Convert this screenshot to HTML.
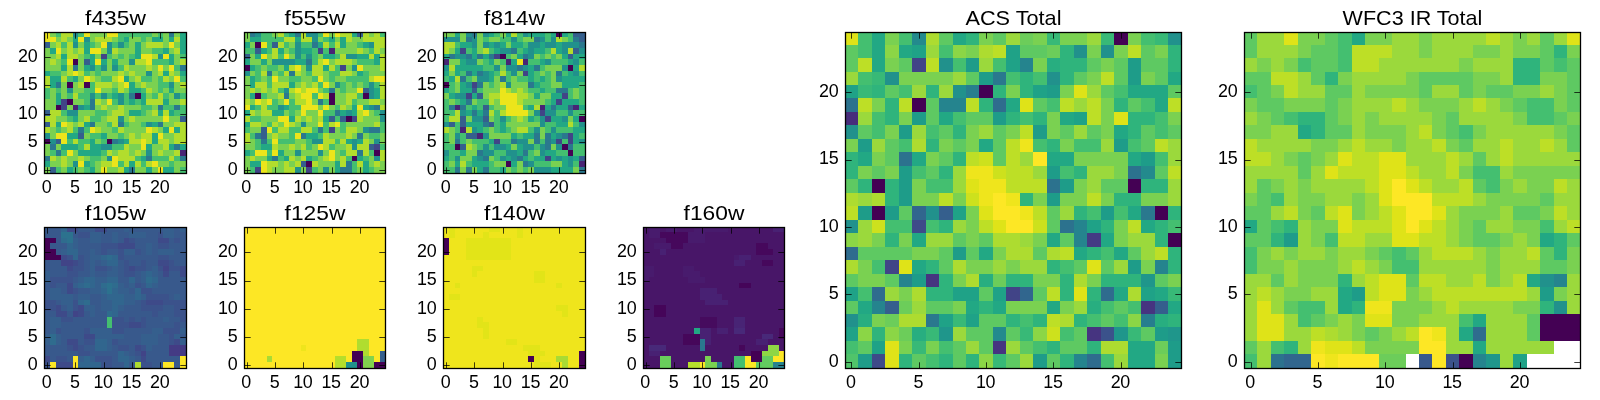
<!DOCTYPE html>
<html lang="en"><head><meta charset="utf-8"><title>HST filter cutouts</title>
<style>
html,body{margin:0;padding:0;background:#fff;}
body{width:1600px;height:400px;overflow:hidden;}
svg{display:block;will-change:transform;}
text{font-family:"Liberation Sans",sans-serif;fill:#000;}
.t{font-size:20.6px;text-anchor:middle;}
.k{font-size:17.9px;}
.fr{fill:none;stroke:#000;stroke-width:1.3;}
.tk{stroke:#000;stroke-width:0.75;fill:none;}
</style></head>
<body>
<svg width="1600" height="400" viewBox="0 0 1600 400">
<rect width="1600" height="400" fill="#fff"/>
<g id="p0">
<clipPath id="c0"><rect x="44.5" y="32.5" width="142" height="141"/></clipPath>
<g clip-path="url(#c0)" shape-rendering="crispEdges">
<rect x="44.3" y="31.1" width="144" height="143" fill="#7ad151"/>
<g transform="translate(44.3,31.1) scale(5.6600,5.6600)">
<path fill="#ece51b" d="M0 0h1v1h-1zM7 0h1v1h-1zM11 0h2v1h-2zM0 1h2v1h-2zM6 1h1v1h-1zM10 2h1v1h-1zM22 2h1v1h-1zM2 3h1v1h-1zM8 3h2v1h-2zM17 4h2v1h-2zM21 4h1v1h-1zM4 5h1v1h-1zM9 5h1v1h-1zM18 5h1v1h-1zM20 6h1v1h-1zM22 6h1v1h-1zM5 7h1v1h-1zM7 8h1v1h-1zM13 8h1v1h-1zM23 8h1v1h-1zM14 9h1v1h-1zM9 10h1v1h-1zM11 12h1v1h-1zM21 15h1v1h-1zM3 16h1v1h-1zM8 17h1v1h-1zM18 17h1v1h-1zM22 17h1v1h-1zM2 18h2v1h-2zM20 18h1v1h-1zM3 19h1v1h-1zM17 19h1v1h-1zM17 20h1v1h-1zM4 21h1v1h-1zM12 22h1v1h-1zM6 23h1v1h-1zM12 23h1v1h-1zM19 23h1v1h-1zM10 24h1v1h-1zM20 24h1v1h-1z"/>
<path fill="#44bf70" d="M2 0h1v1h-1zM6 0h1v1h-1zM13 0h6v1h-6zM20 0h1v1h-1zM13 1h1v1h-1zM17 1h1v1h-1zM3 2h1v1h-1zM8 2h1v1h-1zM12 2h1v1h-1zM14 2h1v1h-1zM19 3h2v1h-2zM7 4h1v1h-1zM11 4h1v1h-1zM13 4h1v1h-1zM15 4h1v1h-1zM24 4h1v1h-1zM3 5h1v1h-1zM19 5h3v1h-3zM9 6h1v1h-1zM13 6h1v1h-1zM23 6h1v1h-1zM1 7h2v1h-2zM7 7h1v1h-1zM9 7h1v1h-1zM4 8h1v1h-1zM10 8h2v1h-2zM17 8h2v1h-2zM20 8h1v1h-1zM24 8h1v1h-1zM8 9h1v1h-1zM20 9h2v1h-2zM0 10h1v1h-1zM2 10h1v1h-1zM7 10h2v1h-2zM12 10h1v1h-1zM17 10h1v1h-1zM20 10h1v1h-1zM0 11h1v1h-1zM4 11h1v1h-1zM6 11h2v1h-2zM9 11h1v1h-1zM11 11h1v1h-1zM14 11h1v1h-1zM19 11h1v1h-1zM21 11h1v1h-1zM24 11h1v1h-1zM7 12h1v1h-1zM12 12h1v1h-1zM14 12h1v1h-1zM16 12h1v1h-1zM17 13h2v1h-2zM21 13h2v1h-2zM24 13h1v1h-1zM3 14h1v1h-1zM9 14h2v1h-2zM17 14h1v1h-1zM23 14h2v1h-2zM4 15h1v1h-1zM8 15h2v1h-2zM11 16h1v1h-1zM14 16h1v1h-1zM17 16h1v1h-1zM2 17h1v1h-1zM5 17h1v1h-1zM7 17h1v1h-1zM12 17h1v1h-1zM8 18h2v1h-2zM13 18h1v1h-1zM4 19h1v1h-1zM6 19h2v1h-2zM10 19h1v1h-1zM6 20h1v1h-1zM12 20h2v1h-2zM1 21h1v1h-1zM3 21h1v1h-1zM10 21h1v1h-1zM8 22h2v1h-2zM16 22h1v1h-1zM19 22h3v1h-3zM23 22h1v1h-1zM8 23h1v1h-1zM13 23h1v1h-1zM17 23h1v1h-1zM22 23h1v1h-1zM2 24h1v1h-1zM5 24h1v1h-1zM7 24h1v1h-1zM24 24h1v1h-1z"/>
<path fill="#b2dd2d" d="M3 0h2v1h-2zM3 1h1v1h-1zM9 1h3v1h-3zM23 1h1v1h-1zM2 2h1v1h-1zM4 2h1v1h-1zM18 2h3v1h-3zM4 3h1v1h-1zM6 3h1v1h-1zM12 3h1v1h-1zM23 3h1v1h-1zM2 4h1v1h-1zM4 4h2v1h-2zM19 4h1v1h-1zM1 5h1v1h-1zM16 5h2v1h-2zM24 5h1v1h-1zM4 6h1v1h-1zM14 6h1v1h-1zM18 6h1v1h-1zM4 7h1v1h-1zM6 7h1v1h-1zM13 7h1v1h-1zM15 7h1v1h-1zM20 7h1v1h-1zM22 7h1v1h-1zM0 8h1v1h-1zM3 8h1v1h-1zM8 8h1v1h-1zM12 8h1v1h-1zM16 8h1v1h-1zM21 8h1v1h-1zM0 9h1v1h-1zM6 9h1v1h-1zM9 9h3v1h-3zM13 9h1v1h-1zM17 9h1v1h-1zM24 9h1v1h-1zM13 10h1v1h-1zM18 10h1v1h-1zM5 11h1v1h-1zM20 11h1v1h-1zM9 12h1v1h-1zM18 12h3v1h-3zM24 12h1v1h-1zM10 13h1v1h-1zM13 13h1v1h-1zM1 14h2v1h-2zM12 14h2v1h-2zM19 14h1v1h-1zM21 14h1v1h-1zM0 15h2v1h-2zM7 15h1v1h-1zM11 15h2v1h-2zM15 15h1v1h-1zM1 16h1v1h-1zM4 16h1v1h-1zM6 16h1v1h-1zM12 16h1v1h-1zM23 16h2v1h-2zM0 17h1v1h-1zM4 17h1v1h-1zM9 17h1v1h-1zM13 17h1v1h-1zM19 17h1v1h-1zM24 17h1v1h-1zM15 18h1v1h-1zM17 18h2v1h-2zM23 18h2v1h-2zM5 19h1v1h-1zM15 19h2v1h-2zM18 19h1v1h-1zM20 19h2v1h-2zM23 19h2v1h-2zM7 20h1v1h-1zM14 20h1v1h-1zM21 20h1v1h-1zM11 21h1v1h-1zM13 21h2v1h-2zM16 21h1v1h-1zM20 21h1v1h-1zM23 21h1v1h-1zM1 22h1v1h-1zM3 22h1v1h-1zM6 22h1v1h-1zM13 22h3v1h-3zM22 22h1v1h-1zM3 23h1v1h-1zM10 23h2v1h-2zM14 23h1v1h-1zM16 23h1v1h-1zM18 23h1v1h-1zM13 24h1v1h-1z"/>
<path fill="#21918c" d="M5 0h1v1h-1zM7 1h1v1h-1zM5 2h1v1h-1zM11 2h1v1h-1zM13 2h1v1h-1zM11 3h1v1h-1zM20 4h1v1h-1zM15 5h1v1h-1zM8 6h1v1h-1zM10 6h1v1h-1zM12 6h1v1h-1zM18 7h1v1h-1zM22 9h1v1h-1zM4 10h1v1h-1zM8 11h1v1h-1zM10 11h1v1h-1zM13 11h1v1h-1zM23 11h1v1h-1zM13 12h1v1h-1zM6 13h1v1h-1zM4 14h2v1h-2zM13 15h1v1h-1zM18 16h1v1h-1zM0 18h1v1h-1zM1 19h1v1h-1zM13 19h1v1h-1zM10 20h2v1h-2zM18 21h1v1h-1zM11 22h1v1h-1zM5 23h1v1h-1z"/>
<path fill="#2a788e" d="M22 0h1v1h-1zM5 6h1v1h-1zM24 6h1v1h-1zM2 9h1v1h-1zM15 11h1v1h-1zM8 12h1v1h-1zM8 13h1v1h-1zM20 13h1v1h-1zM23 13h1v1h-1zM8 16h1v1h-1zM13 16h1v1h-1zM20 16h1v1h-1zM6 17h1v1h-1zM12 19h1v1h-1zM1 20h1v1h-1zM23 20h1v1h-1zM2 21h1v1h-1zM0 22h1v1h-1zM18 22h1v1h-1zM24 22h1v1h-1zM15 24h1v1h-1z"/>
<path fill="#22a884" d="M24 0h1v1h-1zM5 1h1v1h-1zM14 1h1v1h-1zM19 1h2v1h-2zM22 1h1v1h-1zM24 1h1v1h-1zM7 2h1v1h-1zM16 2h1v1h-1zM24 2h1v1h-1zM1 3h1v1h-1zM7 3h1v1h-1zM16 3h1v1h-1zM21 3h1v1h-1zM24 3h1v1h-1zM3 4h1v1h-1zM8 4h1v1h-1zM16 4h1v1h-1zM22 4h1v1h-1zM8 5h1v1h-1zM10 5h1v1h-1zM12 5h1v1h-1zM22 5h1v1h-1zM3 6h1v1h-1zM7 6h1v1h-1zM0 7h1v1h-1zM21 7h1v1h-1zM24 7h1v1h-1zM1 8h2v1h-2zM5 8h1v1h-1zM14 8h1v1h-1zM1 9h1v1h-1zM15 9h1v1h-1zM15 10h2v1h-2zM22 10h1v1h-1zM2 11h1v1h-1zM12 11h1v1h-1zM17 11h1v1h-1zM2 12h1v1h-1zM15 12h1v1h-1zM17 12h1v1h-1zM21 12h1v1h-1zM7 13h1v1h-1zM15 14h2v1h-2zM20 14h1v1h-1zM22 14h1v1h-1zM5 15h1v1h-1zM2 16h1v1h-1zM7 16h1v1h-1zM19 16h1v1h-1zM21 17h1v1h-1zM23 17h1v1h-1zM4 18h2v1h-2zM10 18h1v1h-1zM19 18h1v1h-1zM8 19h1v1h-1zM14 19h1v1h-1zM19 19h1v1h-1zM3 20h3v1h-3zM8 20h2v1h-2zM18 20h1v1h-1zM22 20h1v1h-1zM24 20h1v1h-1zM6 21h4v1h-4zM17 22h1v1h-1zM0 23h1v1h-1zM7 23h1v1h-1zM15 23h1v1h-1zM4 24h1v1h-1zM8 24h1v1h-1zM14 24h1v1h-1zM18 24h1v1h-1zM21 24h2v1h-2z"/>
<path fill="#355f8d" d="M0 2h1v1h-1zM7 5h1v1h-1zM0 14h1v1h-1zM24 15h1v1h-1zM0 16h1v1h-1zM6 18h1v1h-1zM2 19h1v1h-1zM1 24h1v1h-1z"/>
<path fill="#414487" d="M10 4h1v1h-1zM3 12h1v1h-1zM3 13h1v1h-1z"/>
<path fill="#440154" d="M5 5h1v1h-1zM4 9h1v1h-1zM7 9h1v1h-1zM16 11h1v1h-1zM4 12h1v1h-1zM2 13h1v1h-1zM0 19h1v1h-1zM11 19h1v1h-1z"/>
<path fill="#482475" d="M5 13h1v1h-1zM24 21h1v1h-1z"/>
</g>
</g>
<path class="tk" d="M47.5 173.5v-6.2M47.5 32.5v6.2M44.5 170.5h6.2M186.5 170.5h-6.2M75.5 173.5v-6.2M75.5 32.5v6.2M44.5 142.5h6.2M186.5 142.5h-6.2M104.5 173.5v-6.2M104.5 32.5v6.2M44.5 114.5h6.2M186.5 114.5h-6.2M132.5 173.5v-6.2M132.5 32.5v6.2M44.5 85.5h6.2M186.5 85.5h-6.2M160.5 173.5v-6.2M160.5 32.5v6.2M44.5 57.5h6.2M186.5 57.5h-6.2"/>
<rect class="fr" x="44.5" y="32.5" width="142" height="141"/>
<text class="t" x="115.5" y="24.9" textLength="60.77" lengthAdjust="spacingAndGlyphs">f435w</text>
<text class="k" text-anchor="middle" x="46.63" y="192.7">0</text>
<text class="k" text-anchor="end" x="37.6" y="175.17">0</text>
<text class="k" text-anchor="middle" x="74.93" y="192.7">5</text>
<text class="k" text-anchor="end" x="37.6" y="146.87">5</text>
<text class="k" text-anchor="middle" x="103.23" y="192.7" textLength="19.6" lengthAdjust="spacing">10</text>
<text class="k" text-anchor="end" x="37.6" y="118.57" textLength="19.6" lengthAdjust="spacing">10</text>
<text class="k" text-anchor="middle" x="131.53" y="192.7" textLength="19.6" lengthAdjust="spacing">15</text>
<text class="k" text-anchor="end" x="37.6" y="90.27" textLength="19.6" lengthAdjust="spacing">15</text>
<text class="k" text-anchor="middle" x="159.83" y="192.7" textLength="19.6" lengthAdjust="spacing">20</text>
<text class="k" text-anchor="end" x="37.6" y="61.97" textLength="19.6" lengthAdjust="spacing">20</text>
</g>
<g id="p1">
<clipPath id="c1"><rect x="244.5" y="32.5" width="141" height="141"/></clipPath>
<g clip-path="url(#c1)" shape-rendering="crispEdges">
<rect x="244" y="31.1" width="143" height="143" fill="#7ad151"/>
<g transform="translate(244,31.1) scale(5.6600,5.6600)">
<path fill="#2a788e" d="M1 0h1v1h-1zM9 0h1v1h-1zM12 2h1v1h-1zM11 5h1v1h-1zM4 7h1v1h-1zM8 7h1v1h-1zM15 10h1v1h-1zM7 11h1v1h-1zM13 12h1v1h-1zM23 13h1v1h-1zM16 14h1v1h-1zM13 17h1v1h-1zM22 17h2v1h-2zM2 18h1v1h-1zM10 18h1v1h-1zM20 18h1v1h-1zM3 19h1v1h-1zM20 21h1v1h-1zM5 22h1v1h-1zM18 23h1v1h-1zM17 24h2v1h-2z"/>
<path fill="#21918c" d="M2 0h1v1h-1zM11 0h2v1h-2zM12 1h1v1h-1zM9 2h1v1h-1zM22 2h1v1h-1zM9 3h1v1h-1zM9 4h1v1h-1zM11 4h1v1h-1zM18 4h2v1h-2zM5 5h4v1h-4zM11 6h1v1h-1zM19 6h1v1h-1zM0 7h1v1h-1zM16 9h1v1h-1zM22 9h1v1h-1zM7 10h1v1h-1zM22 10h1v1h-1zM22 11h1v1h-1zM6 13h1v1h-1zM22 13h1v1h-1zM18 14h1v1h-1zM24 14h1v1h-1zM24 15h1v1h-1zM10 16h1v1h-1zM21 17h1v1h-1zM12 19h2v1h-2zM19 19h1v1h-1zM23 19h1v1h-1zM19 20h1v1h-1zM9 21h1v1h-1zM13 21h1v1h-1zM23 22h1v1h-1zM9 24h1v1h-1zM14 24h1v1h-1z"/>
<path fill="#44bf70" d="M3 0h2v1h-2zM7 0h1v1h-1zM13 0h1v1h-1zM24 0h1v1h-1zM3 1h4v1h-4zM14 1h1v1h-1zM4 2h1v1h-1zM7 2h1v1h-1zM10 2h2v1h-2zM15 2h1v1h-1zM20 2h1v1h-1zM0 3h2v1h-2zM4 3h1v1h-1zM8 3h1v1h-1zM12 3h1v1h-1zM14 3h1v1h-1zM22 3h1v1h-1zM6 4h1v1h-1zM10 4h1v1h-1zM12 4h1v1h-1zM16 4h1v1h-1zM12 5h1v1h-1zM20 5h3v1h-3zM2 6h1v1h-1zM4 6h2v1h-2zM16 6h1v1h-1zM2 7h1v1h-1zM6 7h1v1h-1zM11 7h1v1h-1zM15 7h2v1h-2zM21 7h1v1h-1zM2 8h1v1h-1zM4 8h1v1h-1zM8 8h2v1h-2zM12 8h1v1h-1zM15 8h1v1h-1zM18 8h4v1h-4zM4 9h1v1h-1zM13 9h1v1h-1zM17 9h1v1h-1zM19 9h1v1h-1zM21 9h1v1h-1zM23 9h1v1h-1zM6 10h1v1h-1zM14 10h1v1h-1zM17 10h1v1h-1zM3 11h1v1h-1zM12 11h1v1h-1zM20 11h1v1h-1zM5 12h1v1h-1zM8 12h1v1h-1zM14 12h1v1h-1zM19 12h1v1h-1zM2 13h1v1h-1zM4 13h2v1h-2zM8 13h2v1h-2zM16 13h1v1h-1zM8 14h1v1h-1zM14 14h2v1h-2zM23 14h1v1h-1zM1 15h2v1h-2zM16 15h1v1h-1zM4 16h1v1h-1zM14 16h1v1h-1zM17 16h1v1h-1zM24 16h1v1h-1zM0 17h1v1h-1zM5 17h1v1h-1zM8 17h2v1h-2zM12 17h1v1h-1zM14 17h1v1h-1zM17 17h1v1h-1zM24 17h1v1h-1zM1 18h1v1h-1zM8 18h1v1h-1zM13 18h1v1h-1zM22 18h2v1h-2zM2 19h1v1h-1zM4 19h1v1h-1zM6 19h3v1h-3zM11 19h1v1h-1zM16 19h1v1h-1zM2 20h1v1h-1zM11 20h1v1h-1zM15 20h1v1h-1zM24 20h1v1h-1zM1 21h1v1h-1zM4 21h1v1h-1zM17 21h1v1h-1zM22 21h1v1h-1zM6 22h1v1h-1zM12 22h1v1h-1zM18 22h1v1h-1zM21 22h1v1h-1zM19 23h1v1h-1zM1 24h1v1h-1zM12 24h1v1h-1zM19 24h1v1h-1zM22 24h1v1h-1z"/>
<path fill="#b2dd2d" d="M6 0h1v1h-1zM10 0h1v1h-1zM17 0h2v1h-2zM21 0h1v1h-1zM23 0h1v1h-1zM7 1h2v1h-2zM10 1h2v1h-2zM18 1h1v1h-1zM21 1h4v1h-4zM6 2h1v1h-1zM14 2h1v1h-1zM16 2h1v1h-1zM23 2h2v1h-2zM5 3h1v1h-1zM20 3h1v1h-1zM23 3h1v1h-1zM5 4h1v1h-1zM17 4h1v1h-1zM22 4h1v1h-1zM24 4h1v1h-1zM13 5h1v1h-1zM16 5h3v1h-3zM24 5h1v1h-1zM8 6h1v1h-1zM12 6h2v1h-2zM15 6h1v1h-1zM24 6h1v1h-1zM3 7h1v1h-1zM7 7h1v1h-1zM9 7h1v1h-1zM12 7h2v1h-2zM17 7h2v1h-2zM22 8h1v1h-1zM2 9h2v1h-2zM5 9h3v1h-3zM10 9h1v1h-1zM12 9h1v1h-1zM24 9h1v1h-1zM1 10h1v1h-1zM3 10h1v1h-1zM5 10h1v1h-1zM8 10h1v1h-1zM10 10h1v1h-1zM24 10h1v1h-1zM6 11h1v1h-1zM9 11h1v1h-1zM14 11h1v1h-1zM18 11h2v1h-2zM24 11h1v1h-1zM0 12h1v1h-1zM3 12h1v1h-1zM9 12h2v1h-2zM18 12h1v1h-1zM22 12h2v1h-2zM3 13h1v1h-1zM17 13h1v1h-1zM24 13h1v1h-1zM1 14h1v1h-1zM3 14h2v1h-2zM20 14h1v1h-1zM0 15h1v1h-1zM9 15h1v1h-1zM11 15h1v1h-1zM13 15h1v1h-1zM20 15h1v1h-1zM1 16h2v1h-2zM5 16h1v1h-1zM8 16h1v1h-1zM15 16h1v1h-1zM23 16h1v1h-1zM6 17h2v1h-2zM10 17h2v1h-2zM18 17h2v1h-2zM0 18h1v1h-1zM5 18h1v1h-1zM14 18h1v1h-1zM18 18h1v1h-1zM0 19h1v1h-1zM14 19h2v1h-2zM17 19h1v1h-1zM21 19h1v1h-1zM5 20h1v1h-1zM8 20h1v1h-1zM10 20h1v1h-1zM14 20h1v1h-1zM18 20h1v1h-1zM20 20h2v1h-2zM18 21h2v1h-2zM21 21h1v1h-1zM24 21h1v1h-1zM1 22h1v1h-1zM8 22h1v1h-1zM10 22h1v1h-1zM14 22h1v1h-1zM17 22h1v1h-1zM24 22h1v1h-1zM4 23h2v1h-2zM7 23h1v1h-1zM9 23h1v1h-1zM12 23h1v1h-1zM17 23h1v1h-1zM20 23h1v1h-1zM23 23h1v1h-1zM4 24h1v1h-1zM7 24h2v1h-2z"/>
<path fill="#22a884" d="M8 0h1v1h-1zM19 0h1v1h-1zM1 1h2v1h-2zM9 1h1v1h-1zM15 1h1v1h-1zM17 1h1v1h-1zM0 2h1v1h-1zM13 2h1v1h-1zM17 2h1v1h-1zM21 2h1v1h-1zM3 3h1v1h-1zM6 3h1v1h-1zM10 3h2v1h-2zM2 4h1v1h-1zM14 4h2v1h-2zM20 4h2v1h-2zM23 4h1v1h-1zM0 5h1v1h-1zM3 5h1v1h-1zM9 5h2v1h-2zM23 5h1v1h-1zM1 6h1v1h-1zM7 6h1v1h-1zM14 6h1v1h-1zM20 7h1v1h-1zM1 8h1v1h-1zM1 9h1v1h-1zM8 9h1v1h-1zM23 10h1v1h-1zM1 11h1v1h-1zM23 11h1v1h-1zM1 13h1v1h-1zM7 13h1v1h-1zM19 13h1v1h-1zM21 13h1v1h-1zM0 14h1v1h-1zM5 14h2v1h-2zM17 14h1v1h-1zM19 14h1v1h-1zM8 15h1v1h-1zM14 15h1v1h-1zM0 16h1v1h-1zM11 18h2v1h-2zM18 19h1v1h-1zM20 19h1v1h-1zM3 20h2v1h-2zM0 21h1v1h-1zM6 21h1v1h-1zM4 22h1v1h-1zM7 22h1v1h-1zM11 22h1v1h-1zM20 22h1v1h-1zM1 23h2v1h-2zM16 23h1v1h-1zM21 23h1v1h-1zM16 24h1v1h-1zM21 24h1v1h-1z"/>
<path fill="#ece51b" d="M14 0h1v1h-1zM16 0h1v1h-1zM3 2h1v1h-1zM3 4h1v1h-1zM7 4h1v1h-1zM14 5h1v1h-1zM9 6h1v1h-1zM20 6h1v1h-1zM5 8h1v1h-1zM13 8h1v1h-1zM23 8h2v1h-2zM14 9h1v1h-1zM9 10h1v1h-1zM11 10h2v1h-2zM20 10h1v1h-1zM10 11h2v1h-2zM13 11h1v1h-1zM2 12h1v1h-1zM4 12h1v1h-1zM7 12h1v1h-1zM11 12h1v1h-1zM0 13h1v1h-1zM10 13h3v1h-3zM14 13h1v1h-1zM20 13h1v1h-1zM10 14h1v1h-1zM13 14h1v1h-1zM21 14h1v1h-1zM6 15h2v1h-2zM7 16h1v1h-1zM13 16h1v1h-1zM16 16h1v1h-1zM4 17h1v1h-1zM9 18h1v1h-1zM5 19h1v1h-1zM13 20h1v1h-1zM2 21h2v1h-2zM5 21h1v1h-1zM15 21h1v1h-1zM15 22h1v1h-1zM3 23h1v1h-1zM3 24h1v1h-1z"/>
<path fill="#355f8d" d="M20 0h1v1h-1zM5 2h1v1h-1zM2 3h1v1h-1zM0 4h1v1h-1zM21 10h1v1h-1zM15 15h1v1h-1zM17 15h1v1h-1zM3 17h1v1h-1zM3 18h1v1h-1zM22 20h1v1h-1zM10 23h1v1h-1z"/>
<path fill="#440154" d="M2 2h1v1h-1zM0 6h1v1h-1zM2 11h1v1h-1zM15 11h1v1h-1zM21 11h1v1h-1zM15 12h1v1h-1zM18 15h1v1h-1zM23 21h1v1h-1zM19 22h1v1h-1zM11 23h1v1h-1z"/>
<path fill="#414487" d="M13 3h1v1h-1zM17 6h1v1h-1zM19 15h1v1h-1zM15 17h1v1h-1zM23 20h1v1h-1zM2 24h1v1h-1zM11 24h1v1h-1z"/>
<path fill="#482475" d="M15 3h1v1h-1z"/>
</g>
</g>
<path class="tk" d="M247.5 173.5v-6.2M247.5 32.5v6.2M244.5 170.5h6.2M385.5 170.5h-6.2M275.5 173.5v-6.2M275.5 32.5v6.2M244.5 142.5h6.2M385.5 142.5h-6.2M303.5 173.5v-6.2M303.5 32.5v6.2M244.5 114.5h6.2M385.5 114.5h-6.2M332.5 173.5v-6.2M332.5 32.5v6.2M244.5 85.5h6.2M385.5 85.5h-6.2M360.5 173.5v-6.2M360.5 32.5v6.2M244.5 57.5h6.2M385.5 57.5h-6.2"/>
<rect class="fr" x="244.5" y="32.5" width="141" height="141"/>
<text class="t" x="315" y="24.9" textLength="60.77" lengthAdjust="spacingAndGlyphs">f555w</text>
<text class="k" text-anchor="middle" x="246.33" y="192.7">0</text>
<text class="k" text-anchor="end" x="237.6" y="175.17">0</text>
<text class="k" text-anchor="middle" x="274.63" y="192.7">5</text>
<text class="k" text-anchor="end" x="237.6" y="146.87">5</text>
<text class="k" text-anchor="middle" x="302.93" y="192.7" textLength="19.6" lengthAdjust="spacing">10</text>
<text class="k" text-anchor="end" x="237.6" y="118.57" textLength="19.6" lengthAdjust="spacing">10</text>
<text class="k" text-anchor="middle" x="331.23" y="192.7" textLength="19.6" lengthAdjust="spacing">15</text>
<text class="k" text-anchor="end" x="237.6" y="90.27" textLength="19.6" lengthAdjust="spacing">15</text>
<text class="k" text-anchor="middle" x="359.53" y="192.7" textLength="19.6" lengthAdjust="spacing">20</text>
<text class="k" text-anchor="end" x="237.6" y="61.97" textLength="19.6" lengthAdjust="spacing">20</text>
</g>
<g id="p2">
<clipPath id="c2"><rect x="443.5" y="32.5" width="142" height="141"/></clipPath>
<g clip-path="url(#c2)" shape-rendering="crispEdges">
<rect x="443.3" y="31.1" width="144" height="143" fill="#44bf70"/>
<g transform="translate(443.3,31.1) scale(5.6600,5.6600)">
<path fill="#7ad151" d="M0 0h2v1h-2zM3 0h1v1h-1zM6 0h1v1h-1zM10 0h1v1h-1zM3 1h1v1h-1zM6 1h1v1h-1zM8 1h2v1h-2zM14 1h2v1h-2zM21 1h1v1h-1zM6 2h1v1h-1zM11 2h1v1h-1zM1 3h1v1h-1zM6 3h1v1h-1zM12 4h1v1h-1zM16 4h1v1h-1zM18 4h1v1h-1zM20 4h1v1h-1zM1 5h2v1h-2zM6 5h1v1h-1zM9 5h1v1h-1zM10 6h1v1h-1zM18 6h3v1h-3zM1 7h1v1h-1zM13 7h1v1h-1zM17 7h1v1h-1zM19 7h1v1h-1zM5 8h1v1h-1zM9 8h1v1h-1zM12 8h1v1h-1zM19 8h1v1h-1zM2 9h1v1h-1zM7 9h1v1h-1zM9 9h1v1h-1zM12 9h3v1h-3zM19 9h2v1h-2zM2 10h1v1h-1zM7 10h3v1h-3zM12 10h1v1h-1zM14 10h1v1h-1zM23 10h1v1h-1zM0 11h1v1h-1zM7 11h1v1h-1zM15 11h1v1h-1zM17 11h2v1h-2zM23 11h1v1h-1zM1 12h1v1h-1zM5 12h1v1h-1zM9 12h1v1h-1zM14 12h4v1h-4zM9 13h2v1h-2zM15 14h1v1h-1zM4 15h1v1h-1zM8 15h1v1h-1zM12 15h1v1h-1zM14 15h1v1h-1zM22 15h1v1h-1zM11 16h6v1h-6zM1 17h1v1h-1zM8 17h1v1h-1zM12 17h1v1h-1zM17 17h1v1h-1zM1 18h1v1h-1zM8 18h4v1h-4zM17 18h1v1h-1zM1 19h1v1h-1zM4 19h1v1h-1zM15 19h1v1h-1zM5 20h1v1h-1zM12 20h1v1h-1zM19 20h1v1h-1zM4 21h2v1h-2zM16 21h1v1h-1zM3 22h2v1h-2zM8 22h1v1h-1zM1 23h1v1h-1zM9 23h2v1h-2zM13 23h1v1h-1zM19 23h2v1h-2zM3 24h1v1h-1zM5 24h1v1h-1zM11 24h1v1h-1zM13 24h1v1h-1zM15 24h1v1h-1zM23 24h1v1h-1z"/>
<path fill="#22a884" d="M2 0h1v1h-1zM8 0h1v1h-1zM11 0h1v1h-1zM15 0h3v1h-3zM19 0h1v1h-1zM21 0h1v1h-1zM3 2h2v1h-2zM8 2h1v1h-1zM10 2h1v1h-1zM12 2h2v1h-2zM17 2h1v1h-1zM20 2h1v1h-1zM2 3h1v1h-1zM5 3h1v1h-1zM9 3h1v1h-1zM14 3h1v1h-1zM16 3h2v1h-2zM20 3h1v1h-1zM0 4h1v1h-1zM5 4h1v1h-1zM7 4h1v1h-1zM13 4h1v1h-1zM21 4h1v1h-1zM23 4h2v1h-2zM3 5h1v1h-1zM8 5h1v1h-1zM12 5h1v1h-1zM17 5h1v1h-1zM22 5h1v1h-1zM2 6h5v1h-5zM15 6h1v1h-1zM23 6h1v1h-1zM0 7h1v1h-1zM2 7h1v1h-1zM5 7h1v1h-1zM8 7h1v1h-1zM15 7h1v1h-1zM22 7h1v1h-1zM1 8h1v1h-1zM8 8h1v1h-1zM15 8h1v1h-1zM17 8h1v1h-1zM21 8h4v1h-4zM3 9h1v1h-1zM16 9h1v1h-1zM21 9h3v1h-3zM0 10h1v1h-1zM3 10h2v1h-2zM17 10h1v1h-1zM1 11h1v1h-1zM5 11h1v1h-1zM16 11h1v1h-1zM19 11h2v1h-2zM3 12h1v1h-1zM19 12h1v1h-1zM21 12h3v1h-3zM5 13h1v1h-1zM15 13h1v1h-1zM18 13h1v1h-1zM20 13h2v1h-2zM24 13h1v1h-1zM4 14h1v1h-1zM6 14h1v1h-1zM15 15h1v1h-1zM19 15h2v1h-2zM23 15h1v1h-1zM4 16h3v1h-3zM10 16h1v1h-1zM20 16h2v1h-2zM6 17h1v1h-1zM10 17h1v1h-1zM23 17h2v1h-2zM12 18h1v1h-1zM14 18h2v1h-2zM19 18h1v1h-1zM23 18h1v1h-1zM8 19h1v1h-1zM23 19h1v1h-1zM11 20h1v1h-1zM13 20h1v1h-1zM3 21h1v1h-1zM13 21h1v1h-1zM18 21h2v1h-2zM0 22h1v1h-1zM5 22h1v1h-1zM11 22h1v1h-1zM14 22h1v1h-1zM16 22h2v1h-2zM19 22h1v1h-1zM21 22h1v1h-1zM23 22h1v1h-1zM2 23h1v1h-1zM5 23h3v1h-3zM12 23h1v1h-1zM21 23h1v1h-1zM6 24h1v1h-1zM10 24h1v1h-1zM19 24h4v1h-4z"/>
<path fill="#21918c" d="M4 0h1v1h-1zM7 0h1v1h-1zM14 0h1v1h-1zM0 1h3v1h-3zM5 1h1v1h-1zM12 1h1v1h-1zM17 1h1v1h-1zM19 1h1v1h-1zM5 2h1v1h-1zM7 2h1v1h-1zM9 2h1v1h-1zM15 2h2v1h-2zM18 2h2v1h-2zM21 2h3v1h-3zM10 3h2v1h-2zM15 3h1v1h-1zM21 3h1v1h-1zM24 3h1v1h-1zM2 4h2v1h-2zM15 4h1v1h-1zM4 5h2v1h-2zM18 5h1v1h-1zM23 5h1v1h-1zM0 6h1v1h-1zM9 6h1v1h-1zM11 6h2v1h-2zM14 6h1v1h-1zM21 6h1v1h-1zM7 7h1v1h-1zM12 7h1v1h-1zM23 7h1v1h-1zM6 8h2v1h-2zM20 8h1v1h-1zM4 9h1v1h-1zM11 9h1v1h-1zM2 11h2v1h-2zM3 14h1v1h-1zM16 14h1v1h-1zM18 14h2v1h-2zM22 14h1v1h-1zM5 15h2v1h-2zM10 15h1v1h-1zM17 15h1v1h-1zM21 15h1v1h-1zM0 16h1v1h-1zM17 16h1v1h-1zM24 16h1v1h-1zM5 17h1v1h-1zM16 17h1v1h-1zM19 17h1v1h-1zM2 18h1v1h-1zM7 18h1v1h-1zM20 18h1v1h-1zM13 19h2v1h-2zM19 19h1v1h-1zM24 19h1v1h-1zM7 20h1v1h-1zM9 20h2v1h-2zM14 20h2v1h-2zM17 20h1v1h-1zM20 20h1v1h-1zM0 21h1v1h-1zM7 21h2v1h-2zM11 21h2v1h-2zM17 21h1v1h-1zM2 22h1v1h-1zM6 22h1v1h-1zM10 22h1v1h-1zM12 22h1v1h-1zM20 22h1v1h-1zM22 22h1v1h-1zM15 23h1v1h-1zM22 23h1v1h-1zM16 24h3v1h-3z"/>
<path fill="#2a788e" d="M5 0h1v1h-1zM4 1h1v1h-1zM16 1h1v1h-1zM23 1h1v1h-1zM24 2h1v1h-1zM12 3h1v1h-1zM1 4h1v1h-1zM4 4h1v1h-1zM6 4h1v1h-1zM8 4h1v1h-1zM14 4h1v1h-1zM13 6h1v1h-1zM16 6h1v1h-1zM4 7h1v1h-1zM6 7h1v1h-1zM20 7h1v1h-1zM3 8h1v1h-1zM10 8h1v1h-1zM6 9h1v1h-1zM15 9h1v1h-1zM20 10h2v1h-2zM4 12h1v1h-1zM1 13h1v1h-1zM3 13h1v1h-1zM19 13h1v1h-1zM5 14h1v1h-1zM7 14h1v1h-1zM7 16h1v1h-1zM16 18h1v1h-1zM18 18h1v1h-1zM21 18h1v1h-1zM2 19h1v1h-1zM12 19h1v1h-1zM16 19h1v1h-1zM18 19h1v1h-1zM18 20h1v1h-1zM22 20h1v1h-1zM6 21h1v1h-1zM14 21h1v1h-1zM7 22h1v1h-1zM13 22h1v1h-1zM14 23h1v1h-1zM2 24h1v1h-1zM4 24h1v1h-1zM7 24h1v1h-1zM24 24h1v1h-1z"/>
<path fill="#b2dd2d" d="M12 0h1v1h-1zM20 1h1v1h-1zM0 2h2v1h-2zM0 3h1v1h-1zM7 3h1v1h-1zM19 3h1v1h-1zM22 3h1v1h-1zM1 6h1v1h-1zM24 6h1v1h-1zM10 7h1v1h-1zM2 8h1v1h-1zM10 9h1v1h-1zM11 10h1v1h-1zM13 10h1v1h-1zM8 11h2v1h-2zM13 11h2v1h-2zM8 12h1v1h-1zM13 12h1v1h-1zM16 13h1v1h-1zM2 14h1v1h-1zM8 14h1v1h-1zM10 14h1v1h-1zM1 15h2v1h-2zM13 15h1v1h-1zM22 16h1v1h-1zM0 17h1v1h-1zM4 17h1v1h-1zM13 17h2v1h-2zM4 20h1v1h-1zM3 23h1v1h-1z"/>
<path fill="#440154" d="M20 0h1v1h-1zM10 4h1v1h-1zM22 6h1v1h-1zM0 9h1v1h-1zM24 15h1v1h-1zM2 20h1v1h-1zM21 20h1v1h-1zM22 21h1v1h-1zM11 23h1v1h-1z"/>
<path fill="#355f8d" d="M23 0h2v1h-2zM24 1h1v1h-1zM23 3h1v1h-1zM22 4h1v1h-1zM5 10h1v1h-1zM6 11h1v1h-1zM7 13h1v1h-1zM22 13h1v1h-1zM3 15h1v1h-1zM7 15h1v1h-1zM1 16h1v1h-1zM3 16h1v1h-1zM8 16h1v1h-1zM4 18h2v1h-2zM3 20h1v1h-1zM24 22h1v1h-1z"/>
<path fill="#414487" d="M3 3h1v1h-1zM9 4h1v1h-1zM14 7h1v1h-1zM5 9h1v1h-1zM4 11h1v1h-1zM21 11h1v1h-1zM20 12h1v1h-1zM17 14h1v1h-1zM18 15h1v1h-1zM22 18h1v1h-1zM9 19h1v1h-1zM20 19h1v1h-1zM22 19h1v1h-1zM18 22h1v1h-1z"/>
<path fill="#482475" d="M0 5h1v1h-1zM11 5h1v1h-1zM14 5h1v1h-1zM2 13h1v1h-1zM17 13h1v1h-1zM23 13h1v1h-1zM3 17h1v1h-1zM6 18h1v1h-1zM24 23h1v1h-1z"/>
<path fill="#ece51b" d="M13 5h1v1h-1zM10 10h1v1h-1zM10 11h3v1h-3zM10 12h3v1h-3zM11 13h3v1h-3zM11 14h4v1h-4z"/>
</g>
</g>
<path class="tk" d="M446.5 173.5v-6.2M446.5 32.5v6.2M443.5 170.5h6.2M585.5 170.5h-6.2M474.5 173.5v-6.2M474.5 32.5v6.2M443.5 142.5h6.2M585.5 142.5h-6.2M503.5 173.5v-6.2M503.5 32.5v6.2M443.5 114.5h6.2M585.5 114.5h-6.2M531.5 173.5v-6.2M531.5 32.5v6.2M443.5 85.5h6.2M585.5 85.5h-6.2M559.5 173.5v-6.2M559.5 32.5v6.2M443.5 57.5h6.2M585.5 57.5h-6.2"/>
<rect class="fr" x="443.5" y="32.5" width="142" height="141"/>
<text class="t" x="514.5" y="24.9" textLength="60.77" lengthAdjust="spacingAndGlyphs">f814w</text>
<text class="k" text-anchor="middle" x="445.63" y="192.7">0</text>
<text class="k" text-anchor="end" x="436.6" y="175.17">0</text>
<text class="k" text-anchor="middle" x="473.93" y="192.7">5</text>
<text class="k" text-anchor="end" x="436.6" y="146.87">5</text>
<text class="k" text-anchor="middle" x="502.23" y="192.7" textLength="19.6" lengthAdjust="spacing">10</text>
<text class="k" text-anchor="end" x="436.6" y="118.57" textLength="19.6" lengthAdjust="spacing">10</text>
<text class="k" text-anchor="middle" x="530.53" y="192.7" textLength="19.6" lengthAdjust="spacing">15</text>
<text class="k" text-anchor="end" x="436.6" y="90.27" textLength="19.6" lengthAdjust="spacing">15</text>
<text class="k" text-anchor="middle" x="558.83" y="192.7" textLength="19.6" lengthAdjust="spacing">20</text>
<text class="k" text-anchor="end" x="436.6" y="61.97" textLength="19.6" lengthAdjust="spacing">20</text>
</g>
<g id="p3">
<clipPath id="c3"><rect x="44.5" y="227.5" width="142" height="141"/></clipPath>
<g clip-path="url(#c3)" shape-rendering="crispEdges">
<rect x="44.3" y="226.2" width="144" height="143" fill="#38598c"/>
<g transform="translate(44.3,226.2) scale(5.6600,5.6600)">
<path fill="#31668e" d="M3 0h1v1h-1zM4 3h1v1h-1zM4 4h2v1h-2zM5 5h1v1h-1zM10 5h1v1h-1zM12 5h1v1h-1zM11 6h2v1h-2zM18 8h1v1h-1zM7 9h2v1h-2zM11 9h2v1h-2zM15 9h1v1h-1zM19 9h1v1h-1zM6 10h1v1h-1zM8 10h1v1h-1zM18 10h1v1h-1zM10 11h1v1h-1zM12 11h1v1h-1zM16 11h1v1h-1zM11 12h3v1h-3zM16 12h1v1h-1zM6 13h1v1h-1zM12 13h2v1h-2zM12 14h1v1h-1zM12 15h1v1h-1zM9 20h2v1h-2zM9 21h2v1h-2zM13 22h1v1h-1zM7 23h1v1h-1zM13 23h2v1h-2zM6 24h4v1h-4zM14 24h1v1h-1z"/>
<path fill="#3e4a89" d="M4 0h2v1h-2zM9 0h2v1h-2zM14 2h1v1h-1zM20 2h2v1h-2zM13 3h3v1h-3zM3 5h1v1h-1zM5 6h1v1h-1zM20 6h2v1h-2zM4 7h1v1h-1zM15 7h1v1h-1zM24 7h1v1h-1zM21 8h1v1h-1zM24 8h1v1h-1zM4 10h1v1h-1zM4 11h1v1h-1zM18 13h3v1h-3zM2 14h1v1h-1zM6 14h1v1h-1zM2 15h2v1h-2zM6 15h1v1h-1zM15 17h2v1h-2zM7 19h2v1h-2zM4 20h2v1h-2zM23 20h1v1h-1zM5 21h1v1h-1zM16 21h1v1h-1zM0 23h1v1h-1zM17 23h1v1h-1zM2 24h3v1h-3z"/>
<path fill="#355f8d" d="M14 0h1v1h-1zM21 0h2v1h-2zM24 0h1v1h-1zM8 1h2v1h-2zM12 1h1v1h-1zM15 1h3v1h-3zM21 1h2v1h-2zM5 2h1v1h-1zM8 2h2v1h-2zM12 2h1v1h-1zM5 3h1v1h-1zM18 3h1v1h-1zM3 4h1v1h-1zM8 4h1v1h-1zM14 4h2v1h-2zM18 4h1v1h-1zM20 4h3v1h-3zM8 5h2v1h-2zM8 6h1v1h-1zM10 6h1v1h-1zM8 7h1v1h-1zM12 7h1v1h-1zM19 7h1v1h-1zM0 8h1v1h-1zM8 8h1v1h-1zM11 8h2v1h-2zM17 8h1v1h-1zM19 8h1v1h-1zM0 9h1v1h-1zM6 9h1v1h-1zM9 9h2v1h-2zM17 9h1v1h-1zM5 10h1v1h-1zM9 10h1v1h-1zM13 10h1v1h-1zM15 10h1v1h-1zM19 10h1v1h-1zM1 11h2v1h-2zM8 11h2v1h-2zM13 11h2v1h-2zM1 12h4v1h-4zM6 12h2v1h-2zM10 12h1v1h-1zM14 12h2v1h-2zM17 12h1v1h-1zM23 12h1v1h-1zM3 13h2v1h-2zM10 13h2v1h-2zM14 13h2v1h-2zM4 14h1v1h-1zM7 14h2v1h-2zM10 14h2v1h-2zM13 14h1v1h-1zM8 15h1v1h-1zM1 16h2v1h-2zM21 16h1v1h-1zM1 17h2v1h-2zM1 18h1v1h-1zM8 18h4v1h-4zM19 18h2v1h-2zM24 18h1v1h-1zM0 19h1v1h-1zM2 19h1v1h-1zM9 19h5v1h-5zM17 19h3v1h-3zM23 19h1v1h-1zM0 20h1v1h-1zM2 20h1v1h-1zM11 20h1v1h-1zM17 20h3v1h-3zM24 20h1v1h-1zM11 21h1v1h-1zM18 21h1v1h-1zM14 22h1v1h-1zM6 23h1v1h-1zM8 23h1v1h-1zM15 23h1v1h-1z"/>
<path fill="#2c728e" d="M3 1h2v1h-2zM4 2h1v1h-1zM11 10h1v1h-1zM11 11h1v1h-1z"/>
<path fill="#3b528b" d="M6 1h2v1h-2zM20 1h1v1h-1zM15 2h1v1h-1zM23 2h1v1h-1zM10 3h3v1h-3zM20 3h2v1h-2zM10 4h1v1h-1zM13 4h1v1h-1zM16 4h1v1h-1zM4 5h1v1h-1zM6 5h1v1h-1zM13 5h1v1h-1zM20 5h2v1h-2zM6 6h1v1h-1zM14 6h1v1h-1zM17 6h1v1h-1zM22 6h1v1h-1zM5 7h2v1h-2zM9 7h2v1h-2zM14 7h1v1h-1zM16 7h2v1h-2zM20 7h1v1h-1zM22 7h2v1h-2zM4 8h2v1h-2zM14 8h2v1h-2zM1 9h4v1h-4zM1 10h1v1h-1zM16 10h1v1h-1zM5 11h1v1h-1zM17 11h2v1h-2zM18 12h4v1h-4zM0 13h2v1h-2zM5 13h1v1h-1zM17 13h1v1h-1zM21 13h4v1h-4zM0 14h2v1h-2zM5 14h1v1h-1zM17 14h4v1h-4zM23 14h2v1h-2zM19 15h1v1h-1zM23 15h2v1h-2zM3 16h2v1h-2zM12 16h2v1h-2zM15 16h1v1h-1zM17 16h1v1h-1zM24 16h1v1h-1zM12 17h3v1h-3zM17 17h1v1h-1zM23 17h1v1h-1zM2 18h1v1h-1zM7 18h1v1h-1zM12 18h2v1h-2zM21 18h3v1h-3zM22 19h1v1h-1zM7 20h2v1h-2zM12 20h1v1h-1zM22 20h1v1h-1zM4 21h1v1h-1zM6 21h1v1h-1zM13 21h2v1h-2zM17 21h1v1h-1zM6 22h2v1h-2zM16 22h1v1h-1zM2 23h2v1h-2zM9 23h3v1h-3zM0 24h1v1h-1zM10 24h2v1h-2zM17 24h2v1h-2z"/>
<path fill="#440154" d="M0 2h2v1h-2zM0 3h1v1h-1zM0 4h2v1h-2zM0 5h3v1h-3z"/>
<path fill="#2f6c8e" d="M3 2h1v1h-1zM11 5h1v1h-1zM18 9h1v1h-1zM7 10h1v1h-1zM10 10h1v1h-1zM12 10h1v1h-1zM7 13h1v1h-1zM11 15h1v1h-1zM1 19h1v1h-1zM1 20h1v1h-1z"/>
<path fill="#414487" d="M3 6h2v1h-2zM21 7h1v1h-1zM5 15h1v1h-1zM17 22h1v1h-1z"/>
<path fill="#44bf70" d="M11 16h1v1h-1zM11 17h1v1h-1z"/>
<path fill="#443b84" d="M22 21h3v1h-3zM22 22h3v1h-3z"/>
<path fill="#fde725" d="M5 23h1v1h-1zM24 23h1v1h-1zM1 24h1v1h-1zM5 24h1v1h-1zM21 24h2v1h-2zM24 24h1v1h-1z"/>
<path fill="#addc30" d="M16 24h1v1h-1z"/>
</g>
</g>
<path class="tk" d="M47.5 368.5v-6.2M47.5 227.5v6.2M44.5 365.5h6.2M186.5 365.5h-6.2M75.5 368.5v-6.2M75.5 227.5v6.2M44.5 337.5h6.2M186.5 337.5h-6.2M104.5 368.5v-6.2M104.5 227.5v6.2M44.5 309.5h6.2M186.5 309.5h-6.2M132.5 368.5v-6.2M132.5 227.5v6.2M44.5 281.5h6.2M186.5 281.5h-6.2M160.5 368.5v-6.2M160.5 227.5v6.2M44.5 252.5h6.2M186.5 252.5h-6.2"/>
<rect class="fr" x="44.5" y="227.5" width="142" height="141"/>
<text class="t" x="115.5" y="219.9" textLength="60.77" lengthAdjust="spacingAndGlyphs">f105w</text>
<text class="k" text-anchor="middle" x="46.63" y="387.7">0</text>
<text class="k" text-anchor="end" x="37.6" y="370.27">0</text>
<text class="k" text-anchor="middle" x="74.93" y="387.7">5</text>
<text class="k" text-anchor="end" x="37.6" y="341.97">5</text>
<text class="k" text-anchor="middle" x="103.23" y="387.7" textLength="19.6" lengthAdjust="spacing">10</text>
<text class="k" text-anchor="end" x="37.6" y="313.67" textLength="19.6" lengthAdjust="spacing">10</text>
<text class="k" text-anchor="middle" x="131.53" y="387.7" textLength="19.6" lengthAdjust="spacing">15</text>
<text class="k" text-anchor="end" x="37.6" y="285.37" textLength="19.6" lengthAdjust="spacing">15</text>
<text class="k" text-anchor="middle" x="159.83" y="387.7" textLength="19.6" lengthAdjust="spacing">20</text>
<text class="k" text-anchor="end" x="37.6" y="257.07" textLength="19.6" lengthAdjust="spacing">20</text>
</g>
<g id="p4">
<clipPath id="c4"><rect x="244.5" y="227.5" width="141" height="141"/></clipPath>
<g clip-path="url(#c4)" shape-rendering="crispEdges">
<rect x="244" y="226.2" width="143" height="143" fill="#fde725"/>
<g transform="translate(244,226.2) scale(5.6600,5.6600)">
<path fill="#b0dd2f" d="M20 20h2v1h-2zM20 21h2v1h-2zM21 22h1v1h-1z"/>
<path fill="#efe51c" d="M10 21h1v1h-1z"/>
<path fill="#440154" d="M19 22h2v1h-2zM19 23h2v1h-2zM20 24h1v1h-1zM23 24h2v1h-2z"/>
<path fill="#355f8d" d="M24 22h1v1h-1zM24 23h1v1h-1z"/>
<path fill="#a8db34" d="M4 23h1v1h-1z"/>
<path fill="#b5de2b" d="M16 23h2v1h-2zM16 24h2v1h-2z"/>
<path fill="#81d34d" d="M21 23h2v1h-2zM21 24h2v1h-2z"/>
<path fill="#21918c" d="M18 24h2v1h-2z"/>
</g>
</g>
<path class="tk" d="M247.5 368.5v-6.2M247.5 227.5v6.2M244.5 365.5h6.2M385.5 365.5h-6.2M275.5 368.5v-6.2M275.5 227.5v6.2M244.5 337.5h6.2M385.5 337.5h-6.2M303.5 368.5v-6.2M303.5 227.5v6.2M244.5 309.5h6.2M385.5 309.5h-6.2M332.5 368.5v-6.2M332.5 227.5v6.2M244.5 281.5h6.2M385.5 281.5h-6.2M360.5 368.5v-6.2M360.5 227.5v6.2M244.5 252.5h6.2M385.5 252.5h-6.2"/>
<rect class="fr" x="244.5" y="227.5" width="141" height="141"/>
<text class="t" x="315" y="219.9" textLength="60.77" lengthAdjust="spacingAndGlyphs">f125w</text>
<text class="k" text-anchor="middle" x="246.33" y="387.7">0</text>
<text class="k" text-anchor="end" x="237.6" y="370.27">0</text>
<text class="k" text-anchor="middle" x="274.63" y="387.7">5</text>
<text class="k" text-anchor="end" x="237.6" y="341.97">5</text>
<text class="k" text-anchor="middle" x="302.93" y="387.7" textLength="19.6" lengthAdjust="spacing">10</text>
<text class="k" text-anchor="end" x="237.6" y="313.67" textLength="19.6" lengthAdjust="spacing">10</text>
<text class="k" text-anchor="middle" x="331.23" y="387.7" textLength="19.6" lengthAdjust="spacing">15</text>
<text class="k" text-anchor="end" x="237.6" y="285.37" textLength="19.6" lengthAdjust="spacing">15</text>
<text class="k" text-anchor="middle" x="359.53" y="387.7" textLength="19.6" lengthAdjust="spacing">20</text>
<text class="k" text-anchor="end" x="237.6" y="257.07" textLength="19.6" lengthAdjust="spacing">20</text>
</g>
<g id="p5">
<clipPath id="c5"><rect x="443.5" y="227.5" width="142" height="141"/></clipPath>
<g clip-path="url(#c5)" shape-rendering="crispEdges">
<rect x="443.3" y="226.2" width="144" height="143" fill="#efe51c"/>
<g transform="translate(443.3,226.2) scale(5.6600,5.6600)">
<path fill="#e2e418" d="M1 0h1v1h-1zM8 0h2v1h-2zM13 0h1v1h-1zM1 1h1v1h-1zM7 1h1v1h-1zM13 1h1v1h-1zM4 2h8v1h-8zM4 3h8v1h-8zM4 4h8v1h-8zM4 5h8v1h-8zM5 7h2v1h-2zM5 8h1v1h-1zM16 8h2v1h-2zM16 9h2v1h-2zM2 10h1v1h-1zM20 10h1v1h-1zM1 12h2v1h-2zM20 14h2v1h-2zM21 15h1v1h-1zM6 16h1v1h-1zM6 17h2v1h-2zM7 18h1v1h-1zM7 19h1v1h-1zM11 20h2v1h-2zM14 21h3v1h-3zM15 22h3v1h-3zM16 23h1v1h-1zM16 24h3v1h-3z"/>
<path fill="#440154" d="M0 2h1v1h-1zM0 3h1v1h-1zM0 4h1v1h-1zM24 22h1v1h-1zM15 23h1v1h-1zM24 23h1v1h-1zM24 24h1v1h-1z"/>
<path fill="#a8db34" d="M20 23h2v1h-2zM21 24h1v1h-1z"/>
</g>
</g>
<path class="tk" d="M446.5 368.5v-6.2M446.5 227.5v6.2M443.5 365.5h6.2M585.5 365.5h-6.2M474.5 368.5v-6.2M474.5 227.5v6.2M443.5 337.5h6.2M585.5 337.5h-6.2M503.5 368.5v-6.2M503.5 227.5v6.2M443.5 309.5h6.2M585.5 309.5h-6.2M531.5 368.5v-6.2M531.5 227.5v6.2M443.5 281.5h6.2M585.5 281.5h-6.2M559.5 368.5v-6.2M559.5 227.5v6.2M443.5 252.5h6.2M585.5 252.5h-6.2"/>
<rect class="fr" x="443.5" y="227.5" width="142" height="141"/>
<text class="t" x="514.5" y="219.9" textLength="60.77" lengthAdjust="spacingAndGlyphs">f140w</text>
<text class="k" text-anchor="middle" x="445.63" y="387.7">0</text>
<text class="k" text-anchor="end" x="436.6" y="370.27">0</text>
<text class="k" text-anchor="middle" x="473.93" y="387.7">5</text>
<text class="k" text-anchor="end" x="436.6" y="341.97">5</text>
<text class="k" text-anchor="middle" x="502.23" y="387.7" textLength="19.6" lengthAdjust="spacing">10</text>
<text class="k" text-anchor="end" x="436.6" y="313.67" textLength="19.6" lengthAdjust="spacing">10</text>
<text class="k" text-anchor="middle" x="530.53" y="387.7" textLength="19.6" lengthAdjust="spacing">15</text>
<text class="k" text-anchor="end" x="436.6" y="285.37" textLength="19.6" lengthAdjust="spacing">15</text>
<text class="k" text-anchor="middle" x="558.83" y="387.7" textLength="19.6" lengthAdjust="spacing">20</text>
<text class="k" text-anchor="end" x="436.6" y="257.07" textLength="19.6" lengthAdjust="spacing">20</text>
</g>
<g id="p6">
<clipPath id="c6"><rect x="643.5" y="227.5" width="141" height="141"/></clipPath>
<g clip-path="url(#c6)" shape-rendering="crispEdges">
<rect x="643" y="226.2" width="143" height="143" fill="#481668"/>
<g transform="translate(643,226.2) scale(5.6600,5.6600)">
<path fill="#481b6d" d="M1 0h2v1h-2zM4 0h2v1h-2zM9 0h6v1h-6zM1 1h2v1h-2zM8 1h3v1h-3zM8 2h3v1h-3zM2 3h3v1h-3zM16 5h1v1h-1zM0 7h2v1h-2zM7 7h2v1h-2zM0 8h2v1h-2zM7 8h3v1h-3zM0 9h1v1h-1zM8 9h3v1h-3z"/>
<path fill="#482173" d="M23 0h2v1h-2zM3 4h1v1h-1zM17 5h2v1h-2zM16 6h2v1h-2zM10 11h3v1h-3zM10 12h4v1h-4zM11 13h4v1h-4zM10 18h2v1h-2zM13 18h2v1h-2zM10 19h2v1h-2zM11 20h1v1h-1zM20 20h2v1h-2zM1 22h2v1h-2z"/>
<path fill="#46085c" d="M3 1h5v1h-5zM4 2h4v1h-4zM5 3h2v1h-2zM20 3h2v1h-2zM20 4h3v1h-3zM21 6h2v1h-2z"/>
<path fill="#450559" d="M17 10h2v1h-2zM2 14h2v1h-2zM2 15h2v1h-2z"/>
<path fill="#460b5e" d="M10 16h3v1h-3zM10 17h3v1h-3z"/>
<path fill="#482475" d="M16 16h2v1h-2zM16 17h2v1h-2z"/>
<path fill="#22a884" d="M9 18h1v1h-1z"/>
<path fill="#482979" d="M16 18h2v1h-2zM21 19h2v1h-2zM1 21h3v1h-3z"/>
<path fill="#46075a" d="M24 18h1v1h-1zM7 19h3v1h-3zM24 19h1v1h-1zM7 20h3v1h-3zM17 21h1v1h-1z"/>
<path fill="#2a788e" d="M10 20h1v1h-1zM10 21h1v1h-1zM13 24h1v1h-1z"/>
<path fill="#8ed645" d="M22 21h2v1h-2zM21 22h3v1h-3z"/>
<path fill="#440154" d="M19 22h2v1h-2zM19 23h2v1h-2z"/>
<path fill="#fde725" d="M24 22h1v1h-1zM18 23h1v1h-1zM23 23h2v1h-2zM10 24h1v1h-1zM18 24h2v1h-2z"/>
<path fill="#69cd5b" d="M3 23h2v1h-2zM3 24h2v1h-2z"/>
<path fill="#7ad151" d="M11 23h1v1h-1zM11 24h2v1h-2z"/>
<path fill="#44bf70" d="M16 23h2v1h-2zM16 24h2v1h-2z"/>
<path fill="#63cb5f" d="M21 23h2v1h-2zM21 24h2v1h-2z"/>
<path fill="#b5de2b" d="M8 24h2v1h-2z"/>
<path fill="#5ec962" d="M20 24h1v1h-1z"/>
<path fill="#26828e" d="M23 24h2v1h-2z"/>
</g>
</g>
<path class="tk" d="M646.5 368.5v-6.2M646.5 227.5v6.2M643.5 365.5h6.2M784.5 365.5h-6.2M674.5 368.5v-6.2M674.5 227.5v6.2M643.5 337.5h6.2M784.5 337.5h-6.2M702.5 368.5v-6.2M702.5 227.5v6.2M643.5 309.5h6.2M784.5 309.5h-6.2M731.5 368.5v-6.2M731.5 227.5v6.2M643.5 281.5h6.2M784.5 281.5h-6.2M759.5 368.5v-6.2M759.5 227.5v6.2M643.5 252.5h6.2M784.5 252.5h-6.2"/>
<rect class="fr" x="643.5" y="227.5" width="141" height="141"/>
<text class="t" x="714" y="219.9" textLength="60.77" lengthAdjust="spacingAndGlyphs">f160w</text>
<text class="k" text-anchor="middle" x="645.33" y="387.7">0</text>
<text class="k" text-anchor="end" x="636.6" y="370.27">0</text>
<text class="k" text-anchor="middle" x="673.63" y="387.7">5</text>
<text class="k" text-anchor="end" x="636.6" y="341.97">5</text>
<text class="k" text-anchor="middle" x="701.93" y="387.7" textLength="19.6" lengthAdjust="spacing">10</text>
<text class="k" text-anchor="end" x="636.6" y="313.67" textLength="19.6" lengthAdjust="spacing">10</text>
<text class="k" text-anchor="middle" x="730.23" y="387.7" textLength="19.6" lengthAdjust="spacing">15</text>
<text class="k" text-anchor="end" x="636.6" y="285.37" textLength="19.6" lengthAdjust="spacing">15</text>
<text class="k" text-anchor="middle" x="758.53" y="387.7" textLength="19.6" lengthAdjust="spacing">20</text>
<text class="k" text-anchor="end" x="636.6" y="257.07" textLength="19.6" lengthAdjust="spacing">20</text>
</g>
<g id="p7">
<clipPath id="c7"><rect x="845.5" y="32.5" width="336" height="336"/></clipPath>
<g clip-path="url(#c7)" shape-rendering="crispEdges">
<rect x="844.8" y="31.1" width="338" height="338" fill="#7ad151"/>
<g transform="translate(844.8,31.1) scale(13.4700,13.4700)">
<path fill="#dfe318" d="M0 0h1v1h-1zM17 4h1v1h-1zM13 5h1v1h-1zM20 6h1v1h-1zM9 11h1v1h-1zM10 13h1v1h-1zM11 14h1v1h-1zM4 17h1v1h-1zM18 17h1v1h-1zM17 19h1v1h-1zM3 23h1v1h-1zM3 24h1v1h-1z"/>
<path fill="#44bf70" d="M1 0h1v1h-1zM4 0h1v1h-1zM22 0h1v1h-1zM1 1h1v1h-1zM7 1h1v1h-1zM8 2h1v1h-1zM11 2h1v1h-1zM1 3h1v1h-1zM12 3h1v1h-1zM14 3h1v1h-1zM4 4h1v1h-1zM20 4h1v1h-1zM15 5h1v1h-1zM22 5h1v1h-1zM2 6h1v1h-1zM8 6h1v1h-1zM13 6h1v1h-1zM23 6h1v1h-1zM2 7h1v1h-1zM6 7h1v1h-1zM23 7h1v1h-1zM4 8h1v1h-1zM14 8h1v1h-1zM17 8h2v1h-2zM21 8h1v1h-1zM23 9h1v1h-1zM5 10h1v1h-1zM16 10h1v1h-1zM6 11h2v1h-2zM18 13h1v1h-1zM20 13h1v1h-1zM3 14h2v1h-2zM6 14h1v1h-1zM24 14h1v1h-1zM19 16h1v1h-1zM2 17h1v1h-1zM16 17h1v1h-1zM1 19h1v1h-1zM19 20h1v1h-1zM21 20h1v1h-1zM13 21h1v1h-1zM18 21h1v1h-1zM20 21h1v1h-1zM16 22h1v1h-1zM0 23h1v1h-1zM7 23h1v1h-1zM14 23h1v1h-1zM6 24h1v1h-1zM19 24h1v1h-1z"/>
<path fill="#22a884" d="M2 0h1v1h-1zM8 0h1v1h-1zM2 1h1v1h-1zM4 1h1v1h-1zM2 2h1v1h-1zM24 3h1v1h-1zM21 4h3v1h-3zM12 5h1v1h-1zM23 5h1v1h-1zM7 6h1v1h-1zM16 6h1v1h-1zM20 7h1v1h-1zM10 8h1v1h-1zM1 9h1v1h-1zM5 9h1v1h-1zM15 9h2v1h-2zM21 9h1v1h-1zM21 13h1v1h-1zM22 14h1v1h-1zM5 15h1v1h-1zM15 15h1v1h-1zM19 15h1v1h-1zM10 16h1v1h-1zM17 16h1v1h-1zM20 16h1v1h-1zM5 17h1v1h-1zM20 19h1v1h-1zM23 19h1v1h-1zM1 20h1v1h-1zM9 20h1v1h-1zM11 20h1v1h-1zM15 20h1v1h-1zM24 20h1v1h-1zM21 23h2v1h-2zM21 24h2v1h-2z"/>
<path fill="#238a8d" d="M5 0h1v1h-1zM22 10h1v1h-1zM11 22h1v1h-1z"/>
<path fill="#addc30" d="M6 0h1v1h-1zM10 1h1v1h-1zM5 8h1v1h-1zM0 12h1v1h-1zM2 12h1v1h-1zM11 15h2v1h-2zM12 16h2v1h-2zM15 16h1v1h-1zM0 17h1v1h-1zM8 17h1v1h-1zM9 18h1v1h-1zM17 18h1v1h-1zM5 19h1v1h-1zM21 19h1v1h-1zM4 21h2v1h-2zM16 21h1v1h-1zM19 23h2v1h-2z"/>
<path fill="#5ec962" d="M7 0h1v1h-1zM11 0h1v1h-1zM0 1h1v1h-1zM13 1h2v1h-2zM22 1h1v1h-1zM0 2h1v1h-1zM4 2h1v1h-1zM18 2h1v1h-1zM20 2h1v1h-1zM22 2h2v1h-2zM9 3h1v1h-1zM17 3h1v1h-1zM20 3h1v1h-1zM23 3h1v1h-1zM3 4h1v1h-1zM19 4h1v1h-1zM24 4h1v1h-1zM6 5h1v1h-1zM14 5h1v1h-1zM21 5h1v1h-1zM6 6h1v1h-1zM9 6h2v1h-2zM1 7h1v1h-1zM7 7h1v1h-1zM11 7h1v1h-1zM16 7h1v1h-1zM18 7h1v1h-1zM22 7h1v1h-1zM24 7h1v1h-1zM3 8h1v1h-1zM8 8h1v1h-1zM11 8h1v1h-1zM22 8h1v1h-1zM3 9h1v1h-1zM7 9h1v1h-1zM11 9h1v1h-1zM2 10h1v1h-1zM6 10h1v1h-1zM23 10h1v1h-1zM0 11h1v1h-1zM19 11h2v1h-2zM4 13h1v1h-1zM15 13h1v1h-1zM15 14h1v1h-1zM8 15h1v1h-1zM10 15h1v1h-1zM16 15h1v1h-1zM1 16h4v1h-4zM7 16h1v1h-1zM9 16h1v1h-1zM14 16h1v1h-1zM21 16h1v1h-1zM7 17h1v1h-1zM17 17h1v1h-1zM19 17h1v1h-1zM0 18h1v1h-1zM3 18h1v1h-1zM23 18h1v1h-1zM10 19h1v1h-1zM14 19h1v1h-1zM0 20h1v1h-1zM6 20h2v1h-2zM20 20h1v1h-1zM10 21h2v1h-2zM19 21h1v1h-1zM9 22h2v1h-2zM12 22h1v1h-1zM17 22h1v1h-1zM22 22h1v1h-1zM1 23h1v1h-1zM8 23h1v1h-1zM10 23h1v1h-1zM13 23h1v1h-1zM16 23h2v1h-2zM5 24h1v1h-1zM8 24h1v1h-1zM12 24h1v1h-1zM15 24h1v1h-1z"/>
<path fill="#2fb47c" d="M9 0h1v1h-1zM16 1h1v1h-1zM24 1h1v1h-1zM16 2h2v1h-2zM24 2h1v1h-1zM13 3h1v1h-1zM16 3h1v1h-1zM2 4h1v1h-1zM6 4h1v1h-1zM11 4h1v1h-1zM13 4h1v1h-1zM3 5h1v1h-1zM10 5h1v1h-1zM20 5h1v1h-1zM3 6h1v1h-1zM12 6h1v1h-1zM14 6h1v1h-1zM21 6h2v1h-2zM8 7h1v1h-1zM21 7h1v1h-1zM6 8h1v1h-1zM15 8h1v1h-1zM0 9h1v1h-1zM8 9h1v1h-1zM0 10h1v1h-1zM7 10h1v1h-1zM17 10h1v1h-1zM1 11h1v1h-1zM3 11h1v1h-1zM22 11h2v1h-2zM3 12h1v1h-1zM13 12h1v1h-1zM20 12h2v1h-2zM17 13h1v1h-1zM24 13h1v1h-1zM7 14h1v1h-1zM19 14h1v1h-1zM23 14h1v1h-1zM3 15h1v1h-1zM23 15h1v1h-1zM18 16h1v1h-1zM24 16h1v1h-1zM6 17h1v1h-1zM15 17h1v1h-1zM24 17h1v1h-1zM7 18h1v1h-1zM12 18h2v1h-2zM16 18h1v1h-1zM19 18h3v1h-3zM6 19h2v1h-2zM16 19h1v1h-1zM18 19h1v1h-1zM10 20h1v1h-1zM12 21h1v1h-1zM14 21h1v1h-1zM17 21h1v1h-1zM24 21h1v1h-1zM2 22h1v1h-1zM15 23h1v1h-1zM18 23h1v1h-1zM4 24h1v1h-1zM7 24h1v1h-1zM9 24h1v1h-1zM16 24h1v1h-1z"/>
<path fill="#9bd93c" d="M12 0h1v1h-1zM18 0h1v1h-1zM6 1h1v1h-1zM10 2h1v1h-1zM0 3h1v1h-1zM8 3h1v1h-1zM5 4h1v1h-1zM7 4h1v1h-1zM18 4h1v1h-1zM17 5h1v1h-1zM1 6h1v1h-1zM5 7h1v1h-1zM10 7h1v1h-1zM17 7h1v1h-1zM2 8h1v1h-1zM19 8h1v1h-1zM24 8h1v1h-1zM13 9h1v1h-1zM24 9h1v1h-1zM8 10h1v1h-1zM14 10h1v1h-1zM18 10h2v1h-2zM8 11h1v1h-1zM18 11h1v1h-1zM24 11h1v1h-1zM1 12h1v1h-1zM24 12h1v1h-1zM16 13h1v1h-1zM1 14h1v1h-1zM8 14h1v1h-1zM1 15h1v1h-1zM6 15h2v1h-2zM13 15h1v1h-1zM21 15h2v1h-2zM22 16h1v1h-1zM11 17h1v1h-1zM13 17h2v1h-2zM20 17h1v1h-1zM3 19h1v1h-1zM5 20h1v1h-1zM17 20h1v1h-1zM8 22h1v1h-1zM9 23h1v1h-1zM12 23h1v1h-1zM13 24h1v1h-1zM20 24h1v1h-1z"/>
<path fill="#6ccd5a" d="M13 0h1v1h-1zM15 1h1v1h-1zM11 18h1v1h-1zM4 20h1v1h-1zM3 21h1v1h-1zM4 22h1v1h-1zM23 23h1v1h-1z"/>
<path fill="#38b977" d="M15 0h1v1h-1zM19 0h1v1h-1zM23 0h1v1h-1zM2 3h1v1h-1zM1 4h1v1h-1zM24 19h1v1h-1zM8 21h1v1h-1zM6 22h1v1h-1zM13 22h1v1h-1zM21 22h1v1h-1zM5 23h1v1h-1zM11 24h1v1h-1z"/>
<path fill="#440154" d="M20 0h1v1h-1zM10 4h1v1h-1zM5 5h1v1h-1zM2 11h1v1h-1zM21 11h1v1h-1zM2 13h1v1h-1zM23 13h1v1h-1zM24 15h1v1h-1z"/>
<path fill="#21918c" d="M24 0h1v1h-1zM17 1h1v1h-1zM19 1h1v1h-1zM7 2h1v1h-1zM3 3h1v1h-1zM15 3h1v1h-1zM8 4h1v1h-1zM0 7h1v1h-1zM6 13h1v1h-1zM0 14h1v1h-1zM0 21h1v1h-1z"/>
<path fill="#8bd646" d="M3 1h1v1h-1zM8 1h1v1h-1zM0 15h1v1h-1zM21 21h1v1h-1zM1 22h1v1h-1zM3 22h1v1h-1zM14 22h1v1h-1zM10 24h1v1h-1z"/>
<path fill="#1fa287" d="M5 1h1v1h-1zM12 1h1v1h-1zM12 2h1v1h-1zM0 4h1v1h-1zM14 4h1v1h-1zM17 6h1v1h-1zM8 13h1v1h-1zM18 14h1v1h-1zM0 19h1v1h-1zM8 19h2v1h-2zM11 19h1v1h-1zM22 19h1v1h-1zM7 21h1v1h-1zM9 21h1v1h-1zM0 22h1v1h-1zM2 23h1v1h-1z"/>
<path fill="#bddf26" d="M11 1h1v1h-1zM21 1h1v1h-1zM1 2h1v1h-1zM6 2h1v1h-1zM19 3h1v1h-1zM1 5h1v1h-1zM4 5h1v1h-1zM9 5h1v1h-1zM16 5h1v1h-1zM18 5h1v1h-1zM24 5h1v1h-1zM18 6h1v1h-1zM13 7h1v1h-1zM12 8h1v1h-1zM23 8h1v1h-1zM9 9h1v1h-1zM12 9h1v1h-1zM12 10h2v1h-2zM24 10h1v1h-1zM12 11h3v1h-3zM7 12h1v1h-1zM18 12h1v1h-1zM0 13h1v1h-1zM14 13h1v1h-1zM10 14h1v1h-1zM21 14h1v1h-1zM16 16h1v1h-1zM23 16h1v1h-1zM15 19h1v1h-1zM15 21h1v1h-1z"/>
<path fill="#414487" d="M5 2h1v1h-1zM3 17h1v1h-1zM12 19h1v1h-1z"/>
<path fill="#1e9c89" d="M9 2h1v1h-1zM21 2h1v1h-1zM10 3h1v1h-1zM21 3h1v1h-1zM15 4h1v1h-1zM5 6h1v1h-1zM11 6h1v1h-1zM4 7h1v1h-1zM14 7h1v1h-1zM1 8h1v1h-1zM20 8h1v1h-1zM22 9h1v1h-1zM4 10h1v1h-1zM15 10h1v1h-1zM4 11h1v1h-1zM16 11h1v1h-1zM4 12h1v1h-1zM15 12h1v1h-1zM1 13h1v1h-1zM3 13h1v1h-1zM19 13h1v1h-1zM8 16h1v1h-1zM21 17h1v1h-1zM5 18h1v1h-1zM23 22h1v1h-1zM24 23h1v1h-1zM1 24h1v1h-1zM14 24h1v1h-1zM24 24h1v1h-1z"/>
<path fill="#25848e" d="M13 2h1v1h-1zM7 5h2v1h-2zM17 14h1v1h-1zM17 15h1v1h-1zM23 17h1v1h-1zM4 18h1v1h-1zM2 20h1v1h-1zM17 24h1v1h-1z"/>
<path fill="#28ae80" d="M15 2h1v1h-1zM10 18h1v1h-1zM18 20h1v1h-1zM1 21h1v1h-1zM23 21h1v1h-1zM5 22h1v1h-1z"/>
<path fill="#2a788e" d="M11 3h1v1h-1zM22 13h1v1h-1zM6 21h1v1h-1z"/>
<path fill="#277e8e" d="M9 4h1v1h-1zM22 21h1v1h-1z"/>
<path fill="#2c728e" d="M0 5h1v1h-1zM4 9h1v1h-1zM21 10h1v1h-1zM15 11h1v1h-1zM16 14h1v1h-1z"/>
<path fill="#2f6c8e" d="M11 5h1v1h-1zM0 16h1v1h-1zM2 19h1v1h-1zM19 19h1v1h-1zM18 24h1v1h-1z"/>
<path fill="#472d7b" d="M0 6h1v1h-1z"/>
<path fill="#efe51c" d="M13 8h1v1h-1zM9 10h2v1h-2zM10 11h2v1h-2zM10 12h1v1h-1zM12 12h1v1h-1zM13 13h1v1h-1z"/>
<path fill="#cde11d" d="M10 9h1v1h-1zM11 10h1v1h-1zM9 12h1v1h-1zM2 14h1v1h-1zM14 14h1v1h-1zM15 22h1v1h-1z"/>
<path fill="#fde725" d="M14 9h1v1h-1zM11 12h1v1h-1zM11 13h2v1h-2zM12 14h2v1h-2z"/>
<path fill="#31668e" d="M5 13h1v1h-1zM13 19h1v1h-1z"/>
<path fill="#355f8d" d="M7 13h1v1h-1zM3 20h1v1h-1zM23 20h1v1h-1z"/>
<path fill="#3e4a89" d="M5 14h1v1h-1zM2 24h1v1h-1z"/>
<path fill="#443b84" d="M18 15h1v1h-1z"/>
<path fill="#463480" d="M6 18h1v1h-1zM22 20h1v1h-1zM18 22h1v1h-1zM11 23h1v1h-1z"/>
<path fill="#1f968b" d="M22 18h1v1h-1zM7 22h1v1h-1zM20 22h1v1h-1zM24 22h1v1h-1z"/>
<path fill="#3b528b" d="M19 22h1v1h-1z"/>
<path fill="#50c46a" d="M0 24h1v1h-1z"/>
</g>
</g>
<path class="tk" d="M851.5 368.5v-6.2M851.5 32.5v6.2M845.5 362.5h6.2M1181.5 362.5h-6.2M919.5 368.5v-6.2M919.5 32.5v6.2M845.5 294.5h6.2M1181.5 294.5h-6.2M986.5 368.5v-6.2M986.5 32.5v6.2M845.5 227.5h6.2M1181.5 227.5h-6.2M1053.5 368.5v-6.2M1053.5 32.5v6.2M845.5 160.5h6.2M1181.5 160.5h-6.2M1121.5 368.5v-6.2M1121.5 32.5v6.2M845.5 92.5h6.2M1181.5 92.5h-6.2"/>
<rect class="fr" x="845.5" y="32.5" width="336" height="336"/>
<text class="t" x="1013.5" y="24.9" textLength="96.01" lengthAdjust="spacingAndGlyphs">ACS Total</text>
<text class="k" text-anchor="middle" x="851.04" y="387.7">0</text>
<text class="k" text-anchor="end" x="838.6" y="366.51">0</text>
<text class="k" text-anchor="middle" x="918.39" y="387.7">5</text>
<text class="k" text-anchor="end" x="838.6" y="299.17">5</text>
<text class="k" text-anchor="middle" x="985.74" y="387.7" textLength="19.6" lengthAdjust="spacing">10</text>
<text class="k" text-anchor="end" x="838.6" y="231.81" textLength="19.6" lengthAdjust="spacing">10</text>
<text class="k" text-anchor="middle" x="1053.09" y="387.7" textLength="19.6" lengthAdjust="spacing">15</text>
<text class="k" text-anchor="end" x="838.6" y="164.47" textLength="19.6" lengthAdjust="spacing">15</text>
<text class="k" text-anchor="middle" x="1120.43" y="387.7" textLength="19.6" lengthAdjust="spacing">20</text>
<text class="k" text-anchor="end" x="838.6" y="97.11" textLength="19.6" lengthAdjust="spacing">20</text>
</g>
<g id="p8">
<clipPath id="c8"><rect x="1244.5" y="32.5" width="336" height="336"/></clipPath>
<g clip-path="url(#c8)" shape-rendering="crispEdges">
<rect x="1243.9" y="31.1" width="338" height="338" fill="#9bd93c"/>
<g transform="translate(1243.9,31.1) scale(13.4700,13.4700)">
<path fill="#5ec962" d="M0 0h1v1h-1zM6 0h1v1h-1zM22 0h1v1h-1zM0 1h1v1h-1zM5 1h2v1h-2zM22 1h1v1h-1zM5 2h2v1h-2zM22 2h1v1h-1zM24 2h1v1h-1zM0 3h2v1h-2zM5 3h1v1h-1zM13 3h4v1h-4zM24 3h1v1h-1zM1 4h1v1h-1zM6 4h2v1h-2zM13 4h1v1h-1zM16 4h1v1h-1zM18 4h2v1h-2zM24 4h1v1h-1zM1 5h2v1h-2zM6 5h1v1h-1zM20 5h1v1h-1zM24 5h1v1h-1zM2 6h1v1h-1zM6 6h1v1h-1zM15 6h1v1h-1zM23 6h1v1h-1zM6 7h2v1h-2zM15 7h1v1h-1zM24 7h1v1h-1zM16 8h1v1h-1zM24 8h1v1h-1zM4 9h1v1h-1zM17 9h1v1h-1zM4 10h1v1h-1zM1 11h1v1h-1zM17 11h1v1h-1zM1 12h1v1h-1zM22 12h1v1h-1zM0 13h2v1h-2zM5 13h1v1h-1zM20 13h2v1h-2zM1 14h1v1h-1zM17 14h1v1h-1zM0 15h2v1h-2zM17 15h2v1h-2zM24 15h1v1h-1zM10 16h1v1h-1zM12 16h1v1h-1zM22 16h1v1h-1zM22 17h2v1h-2zM2 18h1v1h-1zM12 18h1v1h-1zM3 20h1v1h-1zM5 21h1v1h-1zM21 21h1v1h-1zM9 22h1v1h-1zM21 22h1v1h-1zM0 23h1v1h-1z"/>
<path fill="#dfe318" d="M3 0h1v1h-1zM24 0h1v1h-1zM7 9h1v1h-1zM10 9h2v1h-2zM6 10h1v1h-1zM10 10h2v1h-2zM10 11h1v1h-1zM12 11h1v1h-1zM10 12h1v1h-1zM7 13h1v1h-1zM11 13h1v1h-1zM14 13h1v1h-1zM7 14h1v1h-1zM11 14h1v1h-1zM13 14h1v1h-1zM11 15h2v1h-2zM10 18h2v1h-2zM10 19h2v1h-2zM1 20h1v1h-1zM1 21h2v1h-2zM9 21h2v1h-2zM1 22h2v1h-2zM6 23h2v1h-2z"/>
<path fill="#7ad151" d="M4 0h2v1h-2zM9 0h2v1h-2zM13 0h1v1h-1zM20 0h1v1h-1zM4 1h1v1h-1zM13 1h1v1h-1zM17 1h2v1h-2zM20 1h2v1h-2zM24 1h1v1h-1zM1 2h1v1h-1zM3 2h1v1h-1zM16 2h1v1h-1zM7 3h1v1h-1zM12 3h1v1h-1zM17 3h2v1h-2zM22 3h2v1h-2zM2 4h1v1h-1zM9 4h4v1h-4zM17 4h1v1h-1zM20 4h2v1h-2zM23 4h1v1h-1zM0 5h1v1h-1zM3 5h3v1h-3zM7 5h1v1h-1zM13 5h3v1h-3zM19 5h1v1h-1zM23 5h1v1h-1zM1 6h1v1h-1zM7 6h1v1h-1zM9 6h1v1h-1zM14 6h1v1h-1zM20 6h1v1h-1zM24 6h1v1h-1zM0 7h2v1h-2zM9 7h3v1h-3zM14 7h1v1h-1zM17 7h1v1h-1zM23 7h1v1h-1zM5 8h2v1h-2zM11 8h1v1h-1zM15 8h1v1h-1zM3 9h1v1h-1zM5 9h1v1h-1zM16 10h1v1h-1zM20 10h5v1h-5zM2 11h1v1h-1zM4 11h1v1h-1zM19 11h1v1h-1zM21 11h2v1h-2zM0 12h1v1h-1zM4 12h2v1h-2zM8 12h1v1h-1zM18 12h4v1h-4zM4 13h1v1h-1zM8 13h1v1h-1zM16 13h3v1h-3zM22 13h1v1h-1zM5 14h2v1h-2zM16 14h1v1h-1zM20 14h2v1h-2zM5 15h1v1h-1zM16 15h1v1h-1zM19 15h1v1h-1zM21 15h1v1h-1zM1 16h1v1h-1zM3 16h1v1h-1zM6 16h1v1h-1zM9 16h1v1h-1zM18 16h1v1h-1zM24 16h1v1h-1zM1 17h2v1h-2zM4 17h3v1h-3zM10 17h1v1h-1zM18 17h1v1h-1zM24 17h1v1h-1zM4 18h3v1h-3zM18 18h1v1h-1zM3 19h2v1h-2zM12 19h1v1h-1zM23 19h1v1h-1zM11 20h3v1h-3zM20 20h2v1h-2zM6 21h1v1h-1zM8 21h1v1h-1zM11 21h2v1h-2zM8 22h1v1h-1zM10 22h1v1h-1zM9 23h4v1h-4z"/>
<path fill="#44bf70" d="M7 0h1v1h-1zM7 1h1v1h-1zM4 2h1v1h-1zM7 2h1v1h-1zM23 2h1v1h-1zM0 4h1v1h-1zM21 5h2v1h-2zM3 6h1v1h-1zM21 6h2v1h-2zM16 7h1v1h-1zM17 10h2v1h-2zM18 11h1v1h-1zM2 12h1v1h-1zM2 14h1v1h-1zM22 14h1v1h-1zM6 15h1v1h-1zM0 16h1v1h-1zM11 16h1v1h-1zM0 17h1v1h-1zM11 17h2v1h-2zM4 20h2v1h-2zM4 21h1v1h-1zM16 21h1v1h-1zM2 23h1v1h-1zM0 24h1v1h-1z"/>
<path fill="#22a884" d="M8 0h1v1h-1zM4 7h1v1h-1zM0 14h1v1h-1zM22 15h1v1h-1zM21 18h1v1h-1zM7 19h1v1h-1zM7 20h1v1h-1zM17 21h1v1h-1zM16 22h1v1h-1zM17 23h1v1h-1z"/>
<path fill="#bddf26" d="M18 0h1v1h-1zM8 1h3v1h-3zM8 2h2v1h-2zM2 3h2v1h-2zM3 4h1v1h-1zM11 5h1v1h-1zM17 5h1v1h-1zM13 7h1v1h-1zM0 8h1v1h-1zM8 8h1v1h-1zM14 8h1v1h-1zM19 8h1v1h-1zM22 8h1v1h-1zM0 9h2v1h-2zM8 9h2v1h-2zM15 9h1v1h-1zM19 9h1v1h-1zM7 10h3v1h-3zM12 10h1v1h-1zM15 10h1v1h-1zM9 11h1v1h-1zM13 11h1v1h-1zM16 11h1v1h-1zM23 11h1v1h-1zM14 12h3v1h-3zM3 13h1v1h-1zM6 13h1v1h-1zM10 13h1v1h-1zM23 13h1v1h-1zM8 14h3v1h-3zM14 14h1v1h-1zM24 14h1v1h-1zM7 15h2v1h-2zM13 15h2v1h-2zM14 16h3v1h-3zM21 16h1v1h-1zM8 17h1v1h-1zM9 18h1v1h-1zM13 18h2v1h-2zM17 18h1v1h-1zM20 18h1v1h-1zM1 19h1v1h-1zM9 19h1v1h-1zM14 19h7v1h-7zM15 20h1v1h-1zM5 22h1v1h-1zM12 22h1v1h-1zM8 23h1v1h-1z"/>
<path fill="#2fb47c" d="M23 1h1v1h-1zM20 2h2v1h-2zM6 3h1v1h-1zM20 3h2v1h-2zM4 6h2v1h-2zM5 7h1v1h-1zM3 14h1v1h-1zM2 15h1v1h-1zM23 15h1v1h-1zM23 16h1v1h-1zM7 18h1v1h-1zM8 20h1v1h-1zM22 20h1v1h-1zM3 23h1v1h-1z"/>
<path fill="#fde725" d="M11 11h1v1h-1zM11 12h3v1h-3zM12 13h2v1h-2zM12 14h1v1h-1zM13 22h1v1h-1zM13 23h2v1h-2zM5 24h1v1h-1zM7 24h3v1h-3zM14 24h1v1h-1z"/>
<path fill="#1e9c89" d="M3 15h1v1h-1zM8 19h1v1h-1zM22 19h1v1h-1z"/>
<path fill="#21918c" d="M22 18h1v1h-1zM23 20h1v1h-1z"/>
<path fill="#25848e" d="M23 18h1v1h-1zM17 24h1v1h-1z"/>
<path fill="#efe51c" d="M9 20h2v1h-2zM14 22h1v1h-1zM5 23h1v1h-1zM6 24h1v1h-1z"/>
<path fill="#440154" d="M22 21h3v1h-3zM22 22h3v1h-3zM16 24h1v1h-1z"/>
<path fill="#addc30" d="M6 22h1v1h-1z"/>
<path fill="#2f6c8e" d="M17 22h1v1h-1z"/>
<path fill="#ffffff" d="M23 23h2v1h-2zM12 24h1v1h-1zM21 24h4v1h-4z"/>
<path fill="#2c728e" d="M2 24h1v1h-1z"/>
<path fill="#31668e" d="M3 24h2v1h-2z"/>
<path fill="#6ccd5a" d="M10 24h2v1h-2z"/>
<path fill="#38598c" d="M13 24h1v1h-1z"/>
<path fill="#3b528b" d="M15 24h1v1h-1z"/>
<path fill="#1f968b" d="M18 24h1v1h-1z"/>
<path fill="#1fa287" d="M20 24h1v1h-1z"/>
</g>
</g>
<path class="tk" d="M1251.5 368.5v-6.2M1251.5 32.5v6.2M1244.5 362.5h6.2M1580.5 362.5h-6.2M1318.5 368.5v-6.2M1318.5 32.5v6.2M1244.5 294.5h6.2M1580.5 294.5h-6.2M1385.5 368.5v-6.2M1385.5 32.5v6.2M1244.5 227.5h6.2M1580.5 227.5h-6.2M1453.5 368.5v-6.2M1453.5 32.5v6.2M1244.5 160.5h6.2M1580.5 160.5h-6.2M1520.5 368.5v-6.2M1520.5 32.5v6.2M1244.5 92.5h6.2M1580.5 92.5h-6.2"/>
<rect class="fr" x="1244.5" y="32.5" width="336" height="336"/>
<text class="t" x="1412.5" y="24.9" textLength="139.79" lengthAdjust="spacingAndGlyphs">WFC3 IR Total</text>
<text class="k" text-anchor="middle" x="1250.13" y="387.7">0</text>
<text class="k" text-anchor="end" x="1237.6" y="366.51">0</text>
<text class="k" text-anchor="middle" x="1317.48" y="387.7">5</text>
<text class="k" text-anchor="end" x="1237.6" y="299.17">5</text>
<text class="k" text-anchor="middle" x="1384.83" y="387.7" textLength="19.6" lengthAdjust="spacing">10</text>
<text class="k" text-anchor="end" x="1237.6" y="231.81" textLength="19.6" lengthAdjust="spacing">10</text>
<text class="k" text-anchor="middle" x="1452.18" y="387.7" textLength="19.6" lengthAdjust="spacing">15</text>
<text class="k" text-anchor="end" x="1237.6" y="164.47" textLength="19.6" lengthAdjust="spacing">15</text>
<text class="k" text-anchor="middle" x="1519.53" y="387.7" textLength="19.6" lengthAdjust="spacing">20</text>
<text class="k" text-anchor="end" x="1237.6" y="97.11" textLength="19.6" lengthAdjust="spacing">20</text>
</g>
</svg>
</body></html>
